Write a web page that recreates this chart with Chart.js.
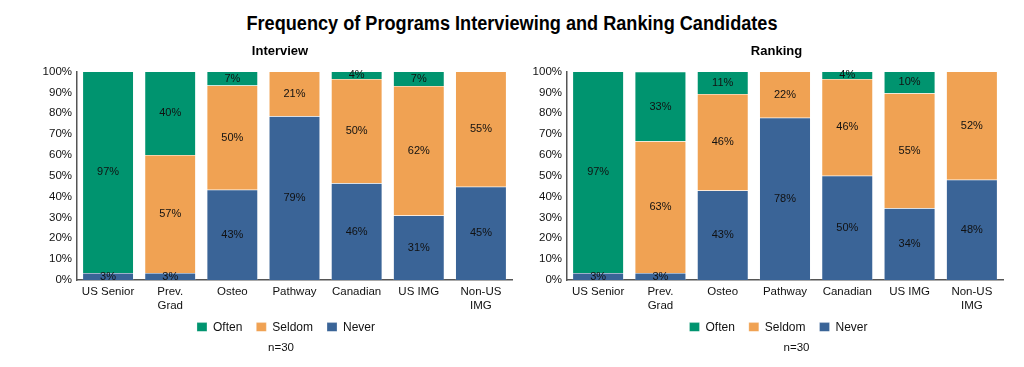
<!DOCTYPE html>
<html>
<head>
<meta charset="utf-8">
<script src="https://cdn.jsdelivr.net/npm/chart.js@4.4.1/dist/chart.umd.min.js"></script>
<style>
  html, body { margin: 0; padding: 0; background: #fff; }
  body { width: 1024px; height: 367px; position: relative; overflow: hidden; font-family: "Liberation Sans", Arial, sans-serif; }
  #mainTitle { position: absolute; top: 12px; left: 0; width: 1024px; text-align: center; font-weight: bold; font-size: 19.5px; line-height: 22px; color: #000; transform: scaleX(0.93); transform-origin: 512px 0; }
  .box { position: absolute; top: 38px; height: 329px; }
  #b1 { left: 36px; width: 494px; }
  #b2 { left: 530px; width: 500px; }
</style>
</head>
<body>
<div id="mainTitle">Frequency of Programs Interviewing and Ranking Candidates</div>
<div class="box" id="b1"><canvas id="c1"></canvas></div>
<div class="box" id="b2"><canvas id="c2"></canvas></div>
<script>
const categories = ["US Senior", ["Prev.", "Grad"], "Osteo", "Pathway", "Canadian", "US IMG", ["Non-US", "IMG"]];
const yTicks = [0, 10, 20, 30, 40, 50, 60, 70, 80, 90, 100];

// Segment shares in percent (labels show the rounded value)
const interviewOften  = [96.7, 40.0, 6.7, 0, 3.6, 6.9, 0];
const interviewSeldom = [0, 56.7, 50.0, 21.4, 50.0, 62.1, 55.2];
const interviewNever  = [3.3, 3.3, 43.3, 78.6, 46.4, 31.0, 44.8];

const rankingOften  = [96.7, 33.3, 10.7, 0, 3.6, 10.4, 0];
const rankingSeldom = [0, 63.3, 46.4, 22.2, 46.4, 55.2, 51.9];
const rankingNever  = [3.3, 3.3, 42.9, 77.8, 50.0, 34.4, 48.1];

const colors = { Often: "#00946F", Seldom: "#F0A253", Never: "#3A6497" };
const FONT = "'Liberation Sans', Arial, sans-serif";

const segmentLabels = {
  id: "segmentLabels",
  afterDatasetsDraw(chart) {
    const ctx = chart.ctx;
    ctx.save();
    ctx.font = "11px " + FONT;
    ctx.fillStyle = "#111";
    ctx.textAlign = "center";
    ctx.textBaseline = "middle";
    chart.data.datasets.forEach((ds, di) => {
      const meta = chart.getDatasetMeta(di);
      meta.data.forEach((bar, i) => {
        const v = ds.data[i];
        if (!v) return;
        const props = bar.getProps(["x", "y", "base"], true);
        ctx.fillText(Math.round(v) + "%", props.x, (props.y + props.base) / 2);
      });
    });
    ctx.restore();
  }
};

// Small layout nudges for the title, legend row and "n=" note
function boxShift(titleDx, noteDx) {
  return {
    id: "boxShift",
    afterLayout(chart) {
      const move = (b, dx, dy) => { if (!b) return; b.left += dx; b.right += dx; b.top += dy; b.bottom += dy; };
      move(chart.legend, 12, -10);
      move(chart.titleBlock, titleDx, 0);
      const note = chart.boxes.find(b => b !== chart.titleBlock && b.options && b.options.text === "n=30");
      move(note, noteDx, 0);
    }
  };
}

function makeChart(id, title, often, seldom, never, yWidth, rightPad, titleDx, noteDx) {
  const ds = (name, data) => ({
    label: name, data: data, backgroundColor: colors[name],
    borderColor: "rgba(255,255,255,0.5)", borderWidth: 0.5,
    barPercentage: 0.82, categoryPercentage: 1.0
  });
  return new Chart(document.getElementById(id), {
    type: "bar",
    data: {
      labels: categories,
      datasets: [ds("Never", never), ds("Seldom", seldom), ds("Often", often)]
    },
    options: {
      responsive: true, maintainAspectRatio: false, animation: false,
      layout: { padding: { left: 0, right: rightPad, top: 0, bottom: 0 } },
      scales: {
        x: {
          stacked: true,
          grid: { display: false, drawTicks: false },
          border: { display: true, color: "#555", width: 1.5 },
          ticks: { color: "#111", font: { size: 11.5, family: FONT }, padding: 5, maxRotation: 0, autoSkip: false }
        },
        y: {
          stacked: true, min: 0, max: 100,
          afterFit(scale) { scale.width = yWidth; },
          afterBuildTicks(scale) { scale.ticks = yTicks.map(v => ({ value: v })); },
          grid: { display: false, drawTicks: false },
          border: { display: true, color: "#555", width: 1.5 },
          ticks: { color: "#111", font: { size: 11.5, family: FONT }, padding: 5, callback: v => v + "%" }
        }
      },
      plugins: {
        title: { display: true, text: title, color: "#000", font: { size: 13, weight: "bold", family: FONT }, padding: { top: 6, bottom: 12 } },
        subtitle: { display: true, position: "bottom", text: "n=30", color: "#111", font: { size: 11.5, family: FONT }, padding: { top: 0, bottom: 12 } },
        legend: {
          position: "bottom",
          reverse: true,
          maxHeight: 23.6,
          labels: { boxWidth: 10, boxHeight: 10, padding: 14, color: "#111", font: { size: 12, family: FONT } }
        },
        tooltip: { enabled: false }
      }
    },
    plugins: [segmentLabels, boxShift(titleDx, noteDx)]
  });
}

makeChart("c1", "Interview", interviewOften, interviewSeldom, interviewNever, 41, 18, 6, 7);
makeChart("c2", "Ranking", rankingOften, rankingSeldom, rankingNever, 37, 27, 10, 30);
</script>
</body>
</html>
